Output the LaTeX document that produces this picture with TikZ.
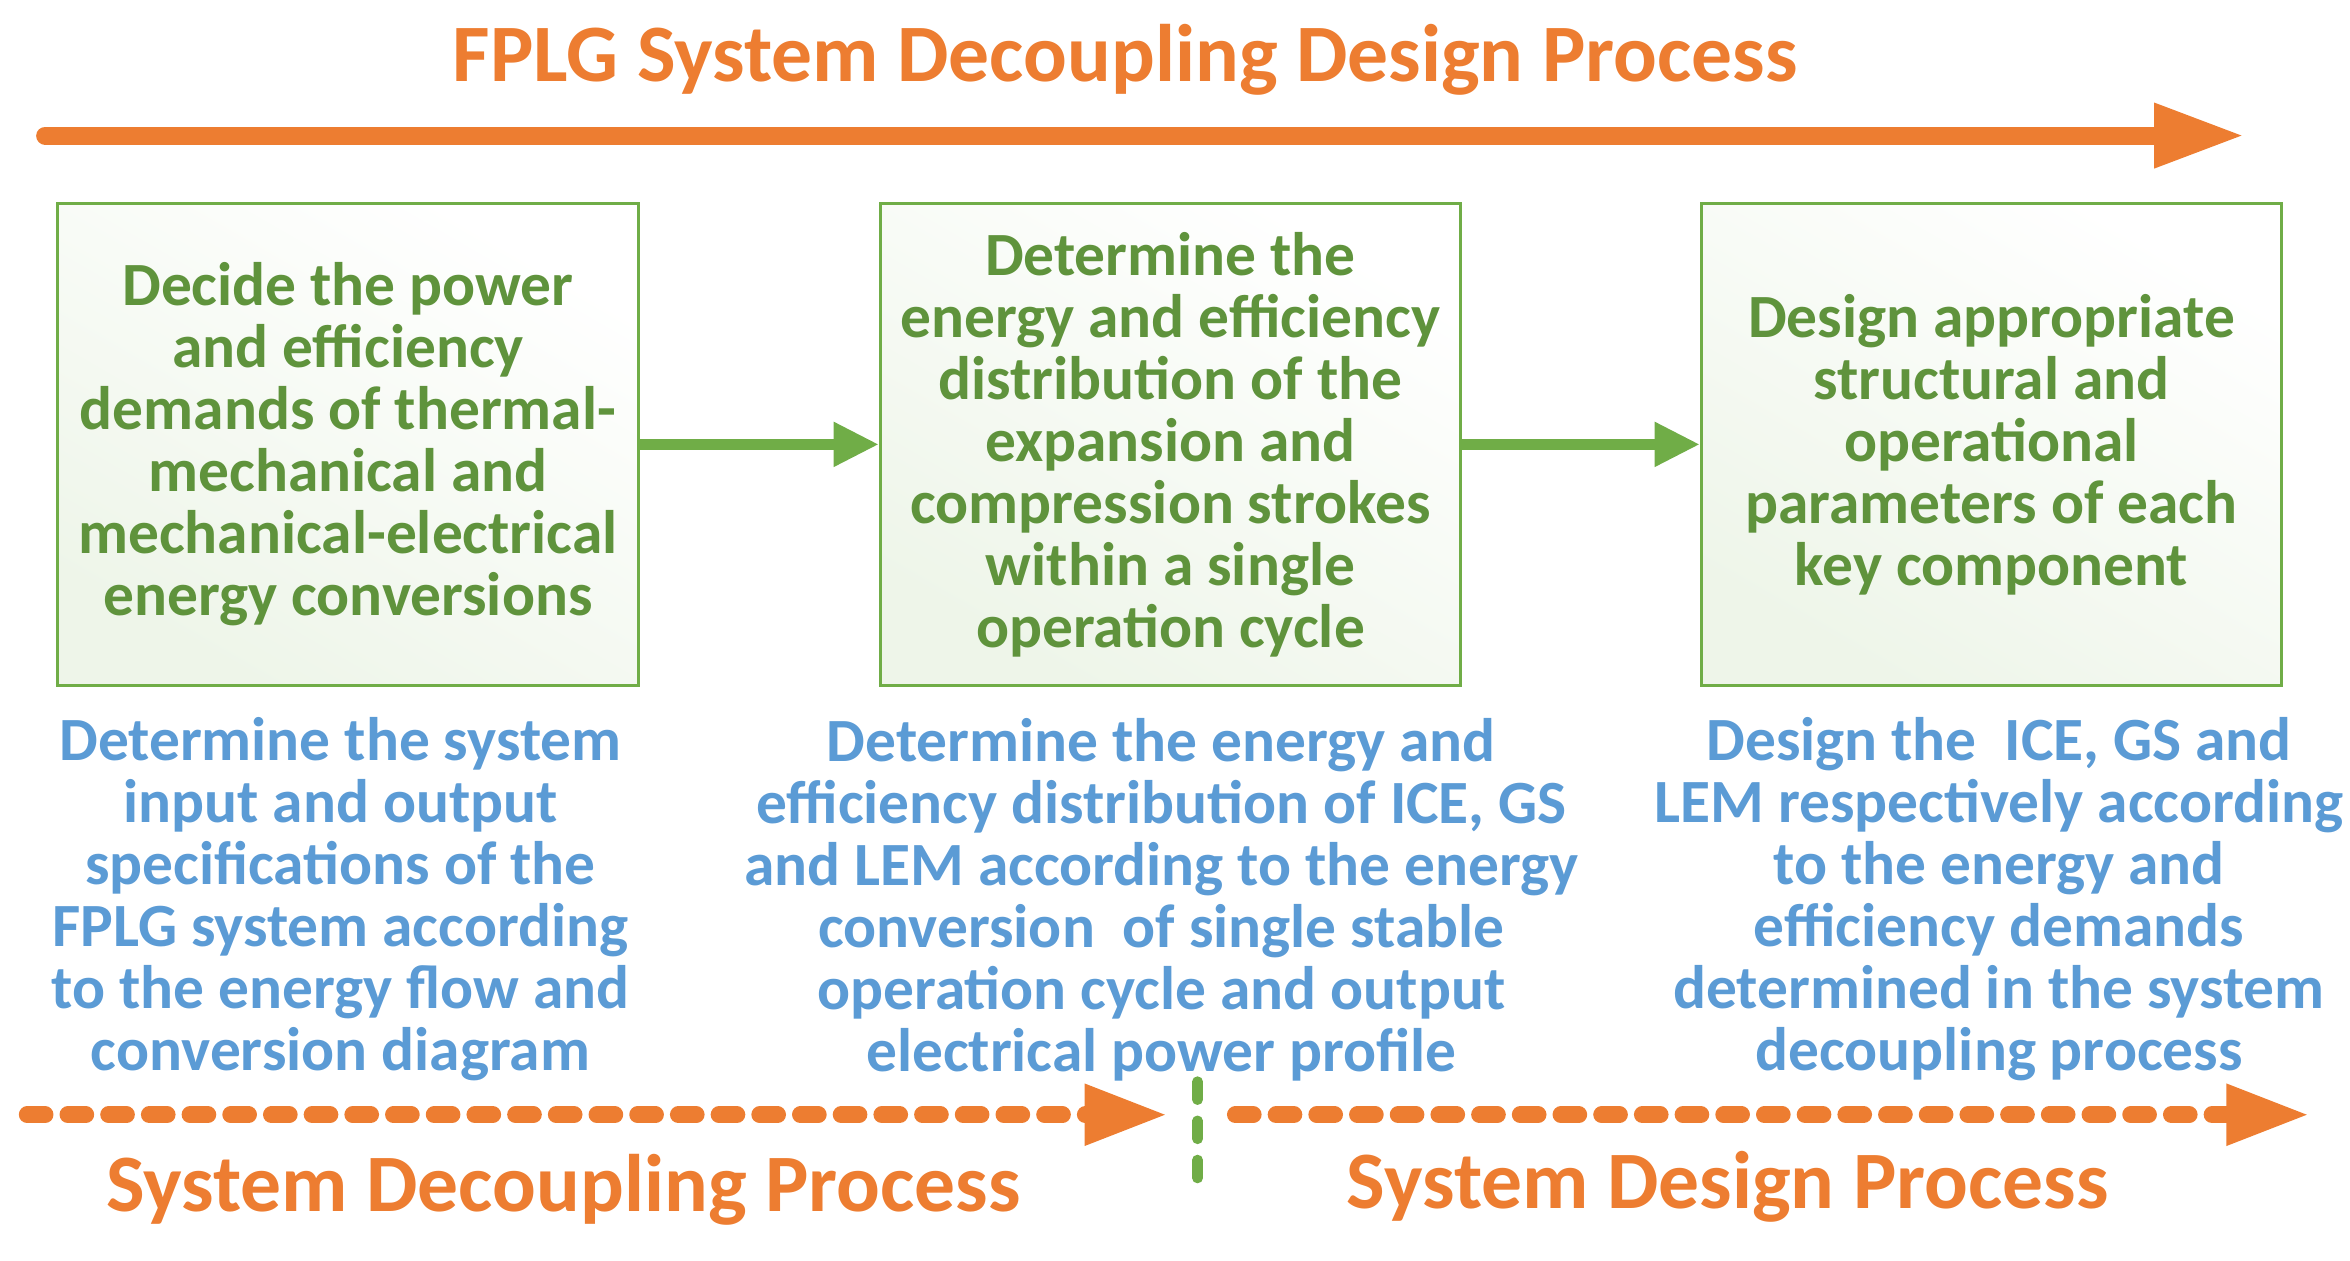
\documentclass[tikz,border=0pt]{standalone}
\usepackage{fontspec}
\setmainfont{Carlito}
\usetikzlibrary{arrows.meta, positioning}
\definecolor{fplgorange}{HTML}{ED7D31}
\definecolor{fplggreen}{HTML}{70AD47}
\definecolor{fplgblue}{HTML}{5B9BD5}
\tikzset{
  stepbox/.style={draw=fplggreen, line width=0.02cm, minimum width=3.85cm, minimum height=3.2cm,
    inner sep=0pt, top color=white, bottom color=fplggreen!12, shading angle=-30,
    font=\bfseries\fontsize{11.6}{11.7}\selectfont, text=fplggreen!85!black, align=center},
  desc/.style={font=\bfseries\fontsize{11.6}{11.7}\selectfont, text=fplgblue, align=center},
  phase/.style={font=\bfseries\fontsize{15.4}{17}\selectfont, text=fplgorange},
  flow/.style={draw=fplggreen, line width=0.07cm, -{Triangle[length=0.3cm,width=0.28cm]}},
  dashflow/.style={draw=fplgorange, line width=0.11cm, line cap=round, dash pattern=on 0.12cm off 0.15cm,
    -{Triangle[length=0.55cm,width=0.38cm]}}
}
\begin{document}
\begin{tikzpicture}[x=0.01cm, y=-0.01cm]
  \useasboundingbox (0,0) rectangle (1560,837);

  \node[font=\bfseries\fontsize{15.4}{17}\selectfont, text=fplgorange] (title) at (747,40) {FPLG System Decoupling Design Process};
  \coordinate (ts) at (30,90);
  \coordinate (te) at (1490,90);
  \draw[fplgorange, line width=0.12cm, line cap=round, -{Triangle[length=0.6cm,width=0.4cm]}] (ts) -- (te);

  \node[stepbox] (b1) at (231,295) {Decide the power\\and efficiency\\demands of thermal-\\mechanical and\\mechanical-electrical\\energy conversions};
  \node[stepbox] (b2) at (777,295) {Determine the\\energy and efficiency\\distribution of the\\expansion and\\compression strokes\\within a single\\operation cycle};
  \node[stepbox] (b3) at (1322,295) {Design appropriate\\structural and\\operational\\parameters of each\\key component};

  \draw[flow] (b1) -- (b2);
  \draw[flow] (b2) -- (b3);

  \node[desc] (d1) at (226,597) {Determine the system\\input and output\\specifications of the\\FPLG system according\\to the energy flow and\\conversion diagram};
  \node[desc] (d2) at (771,597) {Determine the energy and\\efficiency distribution of ICE, GS\\and LEM according to the energy\\conversion\ \ of single stable\\operation cycle and output\\electrical power profile};
  \node[desc] (d3) at (1327,597) {Design the\ \ ICE, GS and\\LEM respectively according\\to the energy and\\efficiency demands\\determined in the system\\decoupling process};

  \coordinate (l1) at (18,740);
  \coordinate (r1) at (775,740);
  \coordinate (l2) at (820,740);
  \coordinate (r2) at (1533,740);
  \draw[dashflow] (l1) -- (r1);
  \draw[dashflow] (l2) -- (r2);
  \coordinate (vt) at (795,718);
  \coordinate (vb) at (795,790);
  \draw[fplggreen, line width=0.07cm, line cap=round, dash pattern=on 0.12cm off 0.14cm] (vt) -- (vb);

  \node[phase] (p1) at (374,790) {System Decoupling Process};
  \node[phase] (p2) at (1147,788) {System Design Process};
\end{tikzpicture}
\end{document}
